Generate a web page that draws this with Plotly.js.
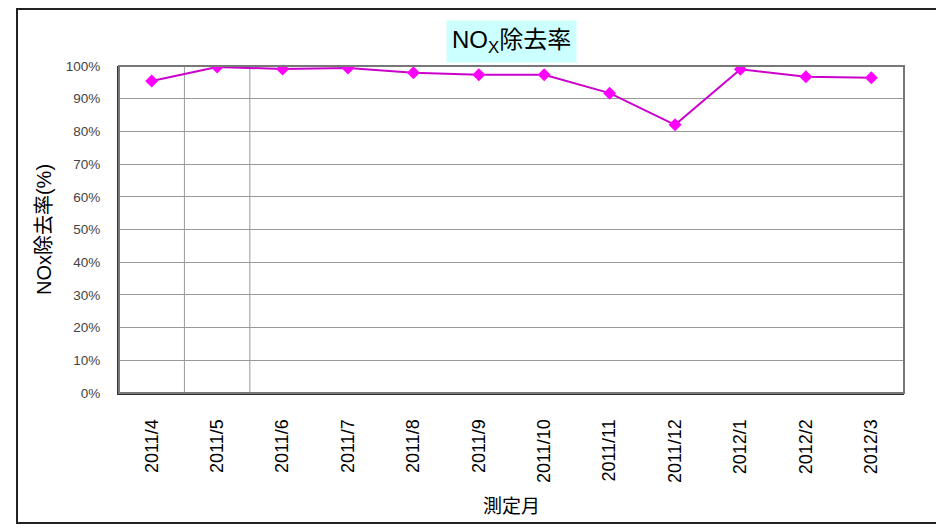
<!DOCTYPE html>
<html>
<head>
<meta charset="utf-8">
<script src="https://cdn.plot.ly/plotly-3.0.1.min.js"></script>
<style>
html,body{margin:0;padding:0;background:#fff;overflow:hidden;width:936px;height:530px;}
#frame{position:absolute;left:16px;top:8px;width:940px;height:512px;border:2px solid #222;box-sizing:content-box;pointer-events:none;z-index:5;}
#chart{position:absolute;left:0;top:0;width:936px;height:530px;}
</style>
</head>
<body>
<div id="chart"></div>
<div id="frame"></div>
<script>
const months = ["2011/4","2011/5","2011/6","2011/7","2011/8","2011/9","2011/10","2011/11","2011/12","2012/1","2012/2","2012/3"];
const noxRemoval = [0.954, 0.997, 0.991, 0.994, 0.979, 0.973, 0.973, 0.917, 0.820, 0.990, 0.967, 0.964];
const yTicks = [0,0.1,0.2,0.3,0.4,0.5,0.6,0.7,0.8,0.9,1.0];
const extraVLines = [0.5, 1.5];

const font = '"Liberation Sans", "Noto Sans CJK JP", Arial, sans-serif';

const trace = {
  x: months,
  y: noxRemoval,
  type: 'scatter',
  mode: 'lines+markers',
  line: {color: '#cc00cc', width: 2},
  marker: {symbol: 'diamond', size: 10, color: '#ff00ff'},
  hoverinfo: 'x+y'
};

const shapes = [
  {type:'rect', xref:'paper', yref:'paper', x0:0, x1:1, y0:0, y1:1, line:{color:'#777', width:2}, layer:'above'}
].concat(extraVLines.map(v => ({
  type:'line', xref:'x', yref:'paper', x0:v, x1:v, y0:0, y1:1, line:{color:'#999', width:1}, layer:'below'
})));

const layout = {
  width: 936, height: 530,
  margin: {l:119, r:32, t:66, b:137},
  paper_bgcolor: '#fff', plot_bgcolor: '#fff',
  showlegend: false,
  font: {family: font, color: '#000'},
  xaxis: {
    type: 'category',
    range: [-0.5, 11.5],
    tickangle: -90,
    tickfont: {size: 18, color: '#000', family: font},
    ticks: 'outside', ticklen: 17, tickcolor: 'rgba(0,0,0,0)',
    showgrid: false,
    showline: true, linecolor: '#333', linewidth: 2,
    zeroline: false,
    title: {text: '測定月', font: {size: 19, color: '#000', family: font}, standoff: 18}
  },
  yaxis: {
    range: [0, 1],
    tickvals: yTicks,
    tickformat: '.0%',
    tickfont: {size: 13.5, color: '#444', family: font},
    ticks: 'outside', ticklen: 14, tickcolor: 'rgba(0,0,0,0)',
    showgrid: true, gridcolor: '#999', gridwidth: 1,
    showline: true, linecolor: '#333', linewidth: 2,
    zeroline: false,
    title: {text: 'NOx除去率(%)', font: {size: 20, color: '#000', family: font}, standoff: 9}
  },
  shapes: shapes,
  annotations: [{
    xref: 'paper', yref: 'paper', x: 0.5, y: 1, yanchor: 'bottom', xanchor: 'center',
    yshift: 3,
    text: 'NO<sub>X</sub>除去率',
    showarrow: false,
    bgcolor: '#ccffff',
    borderpad: 5,
    font: {size: 24, color: '#000', family: font}
  }]
};

Plotly.newPlot('chart', [trace], layout, {displayModeBar: false, staticPlot: true});
</script>
</body>
</html>
